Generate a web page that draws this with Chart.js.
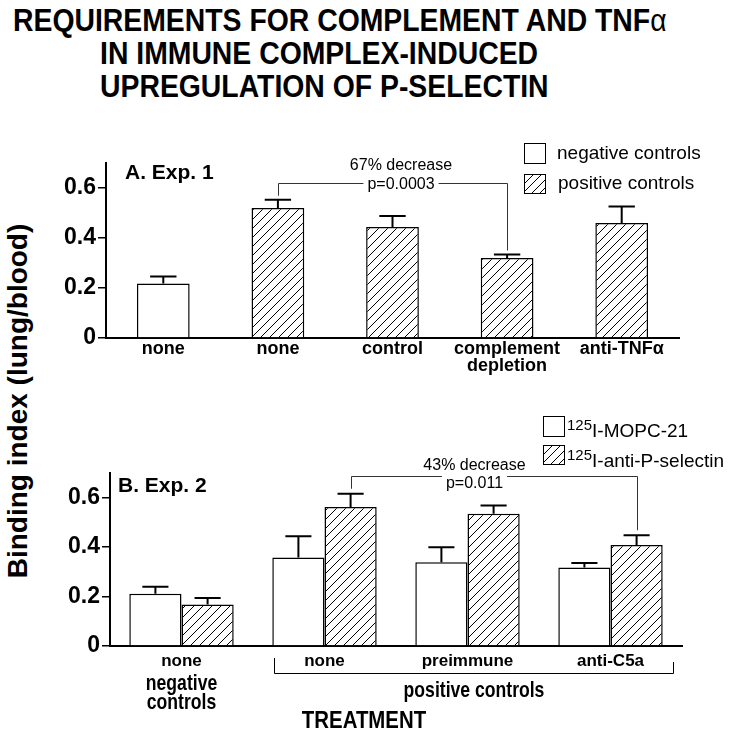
<!DOCTYPE html>
<html>
<head>
<meta charset="utf-8">
<script src="https://cdn.jsdelivr.net/npm/chart.js@4.4.0/dist/chart.umd.min.js"></script>
<style>
  html, body { margin: 0; padding: 0; background: #fff; }
  body { width: 730px; height: 738px; position: relative; overflow: hidden;
         font-family: "Liberation Sans", Arial, Helvetica, sans-serif; color: #000; }
  .abs { position: absolute; white-space: nowrap; }
  .title { font-weight: bold; font-size: 31px; line-height: 31px; transform: scaleX(0.915); transform-origin: left top; }
  .title .greek { font-weight: normal; }
  .leg { font-size: 19px; line-height: 19px; }
  .box { position: absolute; border: 1.5px solid #000; box-sizing: border-box; background: #fff; }
  .hatch { background: repeating-linear-gradient(135deg, #fff 0 5px, #000 5px 6px); }
  .panel { font-weight: bold; font-size: 21px; line-height: 21px; }
  canvas { position: absolute; left: 0; }
</style>
</head>
<body>
<div class="abs title" style="left:13px; top:5px;">REQUIREMENTS FOR COMPLEMENT AND TNF<span class="greek">α</span></div>
<div class="abs title" style="left:100px; top:38px;">IN IMMUNE COMPLEX-INDUCED</div>
<div class="abs title" style="left:100px; top:71px;">UPREGULATION OF P-SELECTIN</div>

<div class="abs" style="left:18px; top:401px; transform: translate(-50%, -50%) rotate(-90deg); font-weight:bold; font-size:28px;">Binding index (lung/blood)</div>

<canvas id="chartA" width="730" height="250" style="top:130px;"></canvas>
<canvas id="chartB" width="730" height="270" style="top:440px;"></canvas>

<div class="abs panel" style="left:125px; top:161px;">A. Exp. 1</div>
<div class="abs panel" style="left:118px; top:474px;">B. Exp. 2</div>

<div class="box" style="left:524px; top:143px; width:22px; height:21px;"></div>
<div class="abs leg" style="left:557px; top:143px;">negative controls</div>
<div class="box hatch" style="left:524px; top:174px; width:22px; height:20px;"></div>
<div class="abs leg" style="left:558px; top:173px;">positive controls</div>

<div class="box" style="left:543px; top:416px; width:22px; height:21px;"></div>
<div class="abs leg" style="left:567px; top:421px;"><span style="font-size:15px; position:relative; top:-7px;">125</span>I-MOPC-21</div>
<div class="box hatch" style="left:543px; top:445px; width:22px; height:20px;"></div>
<div class="abs leg" style="left:567px; top:451px;"><span style="font-size:15px; position:relative; top:-7px;">125</span>I-anti-P-selectin</div>

<div class="abs" style="left:364px; top:720px; transform: translate(-50%, -50%) scaleX(0.85); font-weight:bold; font-size:24px;">TREATMENT</div>

<script>
// Exp. 1
const expA_labels = ['none', 'none', 'control', ['complement', 'depletion'], 'anti-TNFα'];
const expA_group = ['negative', 'positive', 'positive', 'positive', 'positive'];
const expA_values = [0.218, 0.52, 0.444, 0.32, 0.46];
const expA_errors = [0.028, 0.033, 0.044, 0.014, 0.066];

// Exp. 2
const expB_labels = ['none', 'none', 'preimmune', 'anti-C5a'];
const expB_mopc = [0.211, 0.358, 0.339, 0.318];
const expB_mopc_err = [0.029, 0.086, 0.061, 0.018];
const expB_anti = [0.168, 0.562, 0.535, 0.409];
const expB_anti_err = [0.026, 0.054, 0.034, 0.039];

const yLabelled = [0, 0.2, 0.4, 0.6];

const FONT = '"Liberation Sans", Arial, Helvetica, sans-serif';

const makeHatch = () => {
    const c = document.createElement('canvas');
    c.width = 9; c.height = 9;
    const g = c.getContext('2d');
    g.fillStyle = '#fff';
    g.fillRect(0, 0, 9, 9);
    g.strokeStyle = '#000';
    g.lineWidth = 1;
    g.beginPath();
    g.moveTo(0, 9); g.lineTo(9, 0);
    g.moveTo(-1, 1); g.lineTo(1, -1);
    g.moveTo(8, 10); g.lineTo(10, 8);
    g.stroke();
    return g.createPattern(c, 'repeat');
};
const hatch = makeHatch();

// upward error bars with a cap
const errorBars = {
    id: 'errorBars',
    afterDatasetsDraw(chart) {
        const ctx = chart.ctx;
        const ys = chart.scales.y;
        chart.data.datasets.forEach((ds, d) => {
            chart.getDatasetMeta(d).data.forEach((bar, i) => {
                const top = ys.getPixelForValue(ds.data[i] + ds.errors[i]);
                const half = bar.width * 0.25;
                ctx.save();
                ctx.strokeStyle = '#000';
                ctx.lineWidth = 2;
                ctx.beginPath();
                ctx.moveTo(bar.x, bar.y);
                ctx.lineTo(bar.x, top);
                ctx.moveTo(bar.x - half, top);
                ctx.lineTo(bar.x + half, top);
                ctx.stroke();
                ctx.restore();
            });
        });
    }
};

// significance bracket between two bars
const bracket = {
    id: 'bracket',
    afterDatasetsDraw(chart, args, o) {
        if (!o || !o.from) return;
        const ctx = chart.ctx;
        const ys = chart.scales.y;
        const end = ([d, i]) => {
            const ds = chart.data.datasets[d];
            const bar = chart.getDatasetMeta(d).data[i];
            return { x: Math.round(bar.x) + 0.5, y: ys.getPixelForValue(ds.data[i] + ds.errors[i]) - o.gap };
        };
        const a = end(o.from), b = end(o.to);
        const ly = Math.round(ys.getPixelForValue(o.level)) + 0.5;
        const cx = (a.x + b.x) / 2 + o.shift;
        ctx.save();
        ctx.font = '16px ' + FONT;
        ctx.fillStyle = '#000';
        ctx.textAlign = 'center';
        ctx.textBaseline = 'middle';
        const hw = ctx.measureText(o.lower).width / 2 + 4;
        ctx.fillText(o.upper, cx, ly + o.upperDy);
        ctx.fillText(o.lower, cx, ly + o.lowerDy);
        ctx.strokeStyle = '#333';
        ctx.lineWidth = 1;
        ctx.beginPath();
        ctx.moveTo(a.x, a.y); ctx.lineTo(a.x, ly); ctx.lineTo(cx - hw, ly);
        ctx.moveTo(cx + hw, ly); ctx.lineTo(b.x, ly); ctx.lineTo(b.x, b.y);
        ctx.stroke();
        ctx.restore();
    }
};

// group captions under the x axis of Exp. 2
const groups = {
    id: 'groups',
    afterDraw(chart, args, o) {
        if (!o || !o.span) return;
        const ctx = chart.ctx;
        const xs = chart.scales.x;
        const m0 = chart.getDatasetMeta(0).data;
        const m1 = chart.getDatasetMeta(1).data;
        const left = Math.round(m0[o.span[0]].x - m0[o.span[0]].width / 2) + 2.5;
        const right = Math.round(m1[o.span[1]].x + m1[o.span[1]].width / 2) + 10.5;
        const by = xs.top + 27.5;
        ctx.save();
        ctx.strokeStyle = '#000';
        ctx.lineWidth = 1;
        ctx.beginPath();
        ctx.moveTo(left, xs.top + 12); ctx.lineTo(left, by);
        ctx.lineTo(right, by); ctx.lineTo(right, xs.top + 16);
        ctx.stroke();
        ctx.fillStyle = '#000';
        ctx.textAlign = 'center';
        ctx.textBaseline = 'middle';
        ctx.font = 'bold 22px ' + FONT;
        const text = (s, x, y) => {
            ctx.save();
            ctx.translate(x, y);
            ctx.scale(0.8, 1);
            ctx.fillText(s, 0, 0);
            ctx.restore();
        };
        text(o.spanText, (left + right) / 2, by + 17);
        const gx = xs.getPixelForValue(o.single);
        o.singleText.forEach((s, k) => text(s, gx, xs.top + 38 + k * 19));
        ctx.restore();
    }
};

const yScale = (width) => ({
    min: 0,
    max: 0.7,
    ticks: {
        stepSize: 0.1,
        color: '#000',
        padding: 2,
        font: { family: FONT, size: 23, weight: 'bold' },
        callback: v => yLabelled.includes(Math.round(v * 10) / 10) ? (v === 0 ? '0' : v.toFixed(1)) : ''
    },
    grid: { drawOnChartArea: false, drawTicks: true, tickLength: 8, color: '#000', lineWidth: 1.5 },
    border: { color: '#000', width: 2 },
    afterFit: s => { s.width = width; }
});

// eslint-disable-next-line no-unused-vars
const chartA = new Chart(document.getElementById('chartA'), {
    type: 'bar',
    data: {
        labels: expA_labels,
        datasets: [{
            label: 'Binding index',
            data: expA_values,
            errors: expA_errors,
            backgroundColor: expA_group.map(g => g === 'negative' ? '#fff' : hatch),
            borderColor: '#000',
            borderWidth: 1.5,
            categoryPercentage: 0.46,
            barPercentage: 1
        }]
    },
    options: {
        responsive: false,
        animation: false,
        devicePixelRatio: 1,
        layout: { padding: { top: 33, right: 51, left: 0, bottom: 0 } },
        scales: {
            x: {
                ticks: { color: '#000', padding: 2, maxRotation: 0, autoSkip: false,
                         font: { family: FONT, size: 18, weight: 'bold', lineHeight: 0.95 } },
                grid: { drawOnChartArea: false, drawTicks: false },
                border: { color: '#000', width: 2 },
                afterFit: s => { s.height = 42; }
            },
            y: yScale(106)
        },
        plugins: {
            legend: { display: false },
            tooltip: { enabled: false },
            bracket: { from: [0, 1], to: [0, 3], level: 0.62, gap: 4, shift: 8,
                       upper: '67% decrease', lower: 'p=0.0003', upperDy: -18, lowerDy: 1 }
        }
    },
    plugins: [errorBars, bracket]
});

// eslint-disable-next-line no-unused-vars
const chartB = new Chart(document.getElementById('chartB'), {
    type: 'bar',
    data: {
        labels: expB_labels,
        datasets: [{
            label: '125I-MOPC-21',
            data: expB_mopc,
            errors: expB_mopc_err,
            backgroundColor: '#fff',
            borderColor: '#000',
            borderWidth: 1.5,
            categoryPercentage: 0.73,
            barPercentage: 1
        }, {
            label: '125I-anti-P-selectin',
            data: expB_anti,
            errors: expB_anti_err,
            backgroundColor: hatch,
            borderColor: '#000',
            borderWidth: 1.5,
            categoryPercentage: 0.73,
            barPercentage: 1
        }]
    },
    options: {
        responsive: false,
        animation: false,
        devicePixelRatio: 1,
        layout: { padding: { top: 33, right: 48, left: 0, bottom: 0 } },
        scales: {
            x: {
                ticks: { color: '#000', padding: 5, maxRotation: 0, autoSkip: false,
                         font: { family: FONT, size: 17, weight: 'bold' } },
                grid: { drawOnChartArea: false, drawTicks: false },
                border: { color: '#000', width: 2 },
                afterFit: s => { s.height = 64; }
            },
            y: yScale(110)
        },
        plugins: {
            legend: { display: false },
            tooltip: { enabled: false },
            bracket: { from: [1, 1], to: [1, 3], level: 0.688, gap: 5, shift: -20,
                       upper: '43% decrease', lower: 'p=0.011', upperDy: -11, lowerDy: 7 },
            groups: { span: [1, 3], spanText: 'positive controls', single: 0, singleText: ['negative', 'controls'] }
        }
    },
    plugins: [errorBars, bracket, groups]
});
</script>
</body>
</html>
